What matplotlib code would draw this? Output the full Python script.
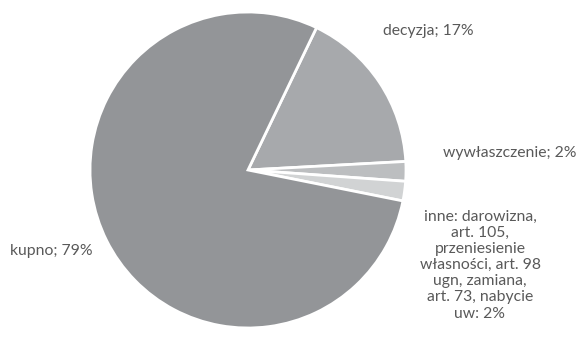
import matplotlib
matplotlib.use("Agg")
import matplotlib.pyplot as plt

# Pie data (clockwise from the top-right)
labels = ["decyzja", "wywłaszczenie",
          "inne: darowizna,\nart. 105,\nprzeniesienie\nwłasności, art. 98\nugn, zamiana,\nart. 73, nabycie\nuw",
          "kupno"]
values = [17, 2, 2, 79]
colors = ["#a7a9ac", "#bcbec0", "#d1d3d4", "#939598"]

plt.rcParams["font.family"] = ["Lato", "DejaVu Sans"]

fig = plt.figure(figsize=(5.8, 3.49), dpi=100)
ax = fig.add_axes([0, 0, 1, 1])

# y axis is flipped below, so counterclockwise in data = clockwise on screen
wedges, _ = ax.pie(values, colors=colors, startangle=-64.3, counterclock=True,
                   center=(248, 170), radius=158, frame=True,
                   wedgeprops=dict(edgecolor="white", linewidth=2))
ax.set_xlim(0, 580)
ax.set_ylim(349, 0)
ax.set_aspect("equal")
ax.axis("off")

# labels, placed next to their slices
text_pos = [(383, 31, "left"), (443, 153, "left"), (480, 265, "center"), (10, 251, "left")]
for lab, val, (x, y, ha) in zip(labels, values, text_pos):
    sep = ":" if lab.startswith("inne") else ";"
    ax.text(x, y, f"{lab}{sep} {val}%", ha=ha, va="center", fontsize=11.3,
            color="#595959", linespacing=1.2)

fig.savefig("out.png", dpi=100)
